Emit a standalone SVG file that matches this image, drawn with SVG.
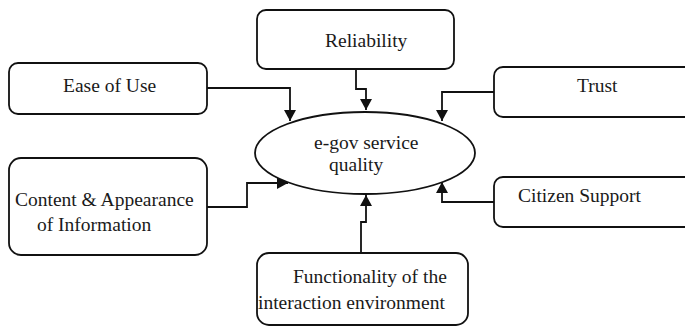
<svg xmlns="http://www.w3.org/2000/svg" width="685" height="327" viewBox="0 0 685 327">
<style>
.box{fill:#fff;stroke:#111;stroke-width:1.8}
.t{font-family:"Liberation Serif","Times New Roman",serif;font-size:19.5px;fill:#1a1a1a}
.c{fill:none;stroke:#111;stroke-width:1.8}
</style>
<defs>
<marker id="ah" markerWidth="12" markerHeight="12" viewBox="0 0 12 12" refX="11" refY="6" orient="auto" markerUnits="userSpaceOnUse">
<path d="M0,0 L11,6 L0,12 Z" fill="#111"/>
</marker>
</defs>
<rect width="685" height="327" fill="#fff"/>
<g id="connectors">
<path class="c" d="M207,88 H290 V121" marker-end="url(#ah)"/>
<path class="c" d="M356,69 V89 H366 V110" marker-end="url(#ah)"/>
<path class="c" d="M494,92 H442 V121" marker-end="url(#ah)"/>
<path class="c" d="M207,207 H247 V183 H288" marker-end="url(#ah)"/>
<path class="c" d="M494,202 H442 V182" marker-end="url(#ah)"/>
<path class="c" d="M361,253 V222 H366 V195" marker-end="url(#ah)"/>
</g>
<g id="center">
<ellipse cx="365" cy="153" rx="110" ry="41" fill="#fff" stroke="#111" stroke-width="1.8"/>
<text class="t" x="314" y="149">e-gov service</text>
<text class="t" x="329" y="171">quality</text>
</g>
<g id="reliability">
<rect class="box" x="257" y="10" width="197" height="59" rx="9"/>
<text class="t" x="325" y="47">Reliability</text>
</g>
<g id="ease">
<rect class="box" x="9" y="63" width="198" height="51" rx="9"/>
<text class="t" x="63" y="92">Ease of Use</text>
</g>
<g id="trust">
<rect class="box" x="494" y="67" width="200" height="50" rx="9"/>
<text class="t" x="577" y="92">Trust</text>
</g>
<g id="content">
<rect class="box" x="9" y="158" width="198" height="97" rx="12"/>
<text class="t" x="15" y="206">Content &amp; Appearance</text>
<text class="t" x="37" y="231">of Information</text>
</g>
<g id="citizen">
<rect class="box" x="494" y="177" width="200" height="50" rx="9"/>
<text class="t" x="518" y="202">Citizen Support</text>
</g>
<g id="functionality">
<rect class="box" x="257" y="253" width="211" height="72" rx="12"/>
<text class="t" x="293" y="283">Functionality of the</text>
<text class="t" x="258" y="309">interaction environment</text>
</g>
</svg>
